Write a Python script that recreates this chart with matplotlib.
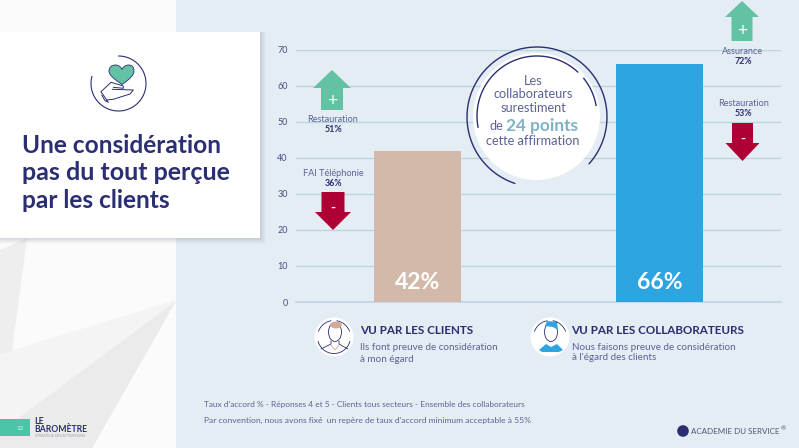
import numpy as np
import matplotlib
matplotlib.use("Agg")
import matplotlib.pyplot as plt
from matplotlib.patches import Polygon, Rectangle, Circle, Ellipse, PathPatch
from matplotlib.path import Path

# ---- data ----
categories = ["VU PAR LES CLIENTS", "VU PAR LES COLLABORATEURS"]
values = [42, 66]
bar_colors = ["#d3b9aa", "#2ea4e0"]
yticks = [0, 10, 20, 30, 40, 50, 60, 70]
subtitles = [["Ils font preuve de considération", "à mon égard"],
             ["Nous faisons preuve de considération", "à l'égard des clients"]]

NAVY = "#2a2e72"
BODY = "#5d6296"
W, H = 799, 448
FONT = "Lato"
plt.rcParams["font.family"] = [FONT, "DejaVu Sans"]

fig = plt.figure(figsize=(W / 100, H / 100), dpi=100, facecolor="#e4edf3")

# background / annotation layer in pixel coordinates
bg = fig.add_axes([0, 0, 1, 1], zorder=0)
bg.set_xlim(0, W); bg.set_ylim(H, 0); bg.axis("off")
bg.add_patch(Rectangle((0, 0), 176, H, fc="#fbfbfb", ec="none"))
bg.add_patch(Polygon([(0, 354), (176, 300), (92, 448), (0, 448)], fc="#f4f4f4", ec="none"))
bg.add_patch(Polygon([(176, 301), (92, 448), (0, 448), (0, 432)], fc="#ebebeb", ec="none"))
bg.add_patch(Polygon([(0, 250), (27, 238), (12, 351), (0, 354)], fc="#eeeeee", ec="none"))
for i, a in zip(range(6, 0, -1), [.03, .04, .05, .06, .07, .08]):
    bg.add_patch(Rectangle((0, 32), 260 + i, 206 + i, fc="#7f8a9a", ec="none", alpha=a))
bg.add_patch(Rectangle((0, 32), 260, 206, fc="white", ec="none"))

# chart
ax = fig.add_axes([296 / W, 1 - 302 / H, 485 / W, 252.5 / H], zorder=1)
ax.patch.set_alpha(0)
x = np.arange(len(values))
ax.bar(x, values, width=0.36, color=bar_colors, zorder=3)
ax.set_xlim(-0.5, 1.5)
ax.set_ylim(0, 70)
ax.set_yticks(yticks)
ax.set_xticks([])
ax.grid(axis="y", color="#bcd5de", lw=1.0, zorder=1)
ax.tick_params(axis="y", length=0, pad=6, labelsize=6.5, labelcolor="#4a4f85")
for s in ax.spines.values():
    s.set_visible(False)
ax.axhline(0, color="#bcd6e6", lw=1.2, zorder=2, clip_on=False)
for xi, v in zip(x, values):
    ax.text(xi, 5.5, f"{v}%", ha="center", va="center", color="white",
            fontsize=16.5, fontweight="bold", zorder=4)

# annotation layer
ov = fig.add_axes([0, 0, 1, 1], zorder=2)
ov.set_xlim(0, W); ov.set_ylim(H, 0); ov.axis("off")
ov.patch.set_alpha(0)


def arc(cx, cy, r, a0, a1, color=NAVY, lw=1.0):
    t = np.radians(np.linspace(a0, a1, 90))
    ov.plot(cx + r * np.cos(t), cy - r * np.sin(t), color=color, lw=lw, solid_capstyle="round")


def line(pts, color=NAVY, lw=0.7):
    p = np.array(pts, float)
    ov.plot(p[:, 0], p[:, 1], color=color, lw=lw, solid_capstyle="round", solid_joinstyle="round")


def up_arrow(cx, tip, head, bottom, hw, sw, color="#63c2a3"):
    ov.add_patch(Polygon([(cx, tip), (cx + hw, head), (cx + sw, head), (cx + sw, bottom),
                          (cx - sw, bottom), (cx - sw, head), (cx - hw, head)], fc=color, ec="none"))
    ov.text(cx, (head + bottom) / 2 + 1.5, "+", color="white", fontsize=12.5, ha="center", va="center")


def down_arrow(cx, top, head, tip, hw, sw, color="#ae0035"):
    ov.add_patch(Polygon([(cx, tip), (cx + hw, head), (cx + sw, head), (cx + sw, top),
                          (cx - sw, top), (cx - sw, head), (cx - hw, head)], fc=color, ec="none"))
    ov.text(cx, head - 4, "-", color="white", fontsize=10, ha="center", va="center", fontweight="bold")


up_arrow(332, 70, 88, 110, 19, 11)
down_arrow(333, 192, 212, 230, 18, 11.5)
up_arrow(742, 1, 17, 41, 17, 10.5)
down_arrow(742.5, 123, 143, 161, 17, 10.5)

for xc, y, name, pct in [(333, 120, "Restauration", "51%"), (333.5, 173, "FAI Téléphonie", "36%"),
                         (743, 52, "Assurance", "72%"), (743.5, 103, "Restauration", "53%")]:
    ov.text(xc, y, name, color=BODY, fontsize=6.6, ha="center", va="center")
    ov.text(xc, y + 10, pct, color=NAVY, fontsize=6.4, ha="center", va="center", fontweight="bold")

# callout
ov.add_patch(Circle((536.5, 116.5), 63.5, fc="white", ec="none"))
arc(537, 117, 70, 251.6, -42)
arc(537, 116, 60, 191, 47)
arc(537, 116, 60, 39, 10)
for y, t in [(81, "Les"), (94, "collaborateurs"), (108, "surestiment"), (141, "cette affirmation")]:
    ov.text(533, y, t, color=BODY, fontsize=9.2, ha="center", va="center")
ov.text(489, 126.5, "de", color=BODY, fontsize=9.2, ha="left", va="center")
ov.text(506.5, 125.5, "24 points", color="#7fb2c6", fontsize=12.4, fontweight="bold", ha="left", va="center")

# title card
for y, t, fs in [(145.5, "Une considération", 17.6), (173, "pas du tout perçue", 18.0), (200.5, "par les clients", 17.6)]:
    ov.text(22, y, t, color=NAVY, fontsize=fs, fontweight="bold", ha="left", va="center")

# card icon
arc(118.5, 83.5, 27.5, 90, -195, lw=0.8)
heart = Path([(122, 84.5), (114, 79), (109, 75), (109, 71), (109, 67), (112, 65), (115.5, 65),
              (118.5, 65), (121, 67), (122, 69.5),
              (123, 67), (125.5, 65), (128.5, 65), (132, 65), (134, 67), (134, 71),
              (134, 75), (130, 79), (122, 84.5)],
             [Path.MOVETO] + [Path.CURVE4] * 18)
ov.add_patch(PathPatch(heart, fc="#63c2a3", ec=NAVY, lw=0.6))
line([(101, 91.7), (111, 82.3), (123.3, 86), (123.3, 88.3), (113.3, 87.3)])
line([(112.3, 89.3), (133.3, 90), (130, 94), (113.3, 99.3), (106.7, 100)])
line([(101, 91.7), (108.3, 102.3), (105, 100.7), (101.7, 95)])

# group labels with portraits
portrait_x = (334, 550)
for cx in portrait_x:
    ov.add_patch(Circle((cx, 337), 19.5, fc="white", ec="none"))
# client portrait
cx = portrait_x[0]
arc(cx, 337, 16.5, 100, 160, lw=0.6); arc(cx, 337, 16.5, 20, 80, lw=0.6)
arc(cx, 337, 16.5, 195, 345, lw=0.6)
ov.add_patch(Ellipse((cx + 1, 332), 13, 19, fc="white", ec=NAVY, lw=0.6))
ov.add_patch(Ellipse((cx + 2, 325), 11.5, 7, fc="#d3a998", ec="none"))
line([(cx - 3, 341), (cx - 3, 344), (cx - 13, 349)], lw=0.6)
line([(cx + 5, 341), (cx + 5, 344), (cx + 14, 349)], lw=0.6)
line([(cx - 3, 345), (cx + 1, 350), (cx + 5, 345)], color="#d3a998", lw=0.6)
# staff portrait
cx = portrait_x[1]
arc(cx, 337, 16.5, 100, 160, lw=0.6); arc(cx, 337, 16.5, 20, 80, lw=0.6)
ov.add_patch(Polygon([(cx - 11, 350), (cx - 4, 344), (cx + 1, 347), (cx + 7, 344), (cx + 13, 350),
                      (cx + 9, 352), (cx - 8, 352)], fc="#2ea4e0", ec="none"))
ov.add_patch(Ellipse((cx + 1, 332), 13, 19, fc="white", ec=NAVY, lw=0.6))
ov.add_patch(Polygon([(cx - 5, 326), (cx - 3, 321), (cx + 7, 322), (cx + 8, 330), (cx + 3, 327)],
                     fc="#2ea4e0", ec="none"))

for xt, ytop, ysub, head, sub in [(360, 331, 348, categories[0], subtitles[0]),
                                  (571.5, 331, 347, categories[1], subtitles[1])]:
    ov.text(xt, ytop, head, color=NAVY, fontsize=8.4, fontweight="bold", ha="left", va="center")
    ov.text(xt, ysub, sub[0], color=BODY, fontsize=7.1, ha="left", va="center")
    ov.text(xt, ysub + 11, sub[1], color=BODY, fontsize=7.1, ha="left", va="center")

# footnotes
ov.text(204, 405, "Taux d'accord % - Réponses 4 et 5 - Clients tous secteurs - Ensemble des collaborateurs",
        color=BODY, fontsize=5.95, ha="left", va="center")
ov.text(204, 420, "Par convention, nous avons fixé  un repère de taux d'accord minimum acceptable à 55%",
        color=BODY, fontsize=6.1, ha="left", va="center")

# logos
ov.add_patch(Circle((683, 431), 5.8, fc=NAVY, ec="none"))
ov.text(691, 431, "ACADEMIE DU SERVICE", color="#4f5478", fontsize=5.8, ha="left", va="center")
ov.text(781, 429, "®", color="#4f5478", fontsize=4.5, ha="left", va="center")
ov.add_patch(Rectangle((0, 419), 30, 17, fc="#4cc4a8", ec="none"))
ov.text(20, 428, "12", color="#d8f3ec", fontsize=4.5, ha="center", va="center")
ov.text(34.5, 421.5, "LE", color=NAVY, fontsize=6.4, fontweight="bold", ha="left", va="center")
ov.text(34.5, 429.5, "BAROMÈTRE", color=NAVY, fontsize=6.2, fontweight="bold", ha="left", va="center")
ov.text(35, 436, "STRATÉGIE DES ATTENTIONS", color="#9a9aa8", fontsize=2.6, ha="left", va="center")

fig.savefig("out.png", dpi=100, facecolor=fig.get_facecolor())
